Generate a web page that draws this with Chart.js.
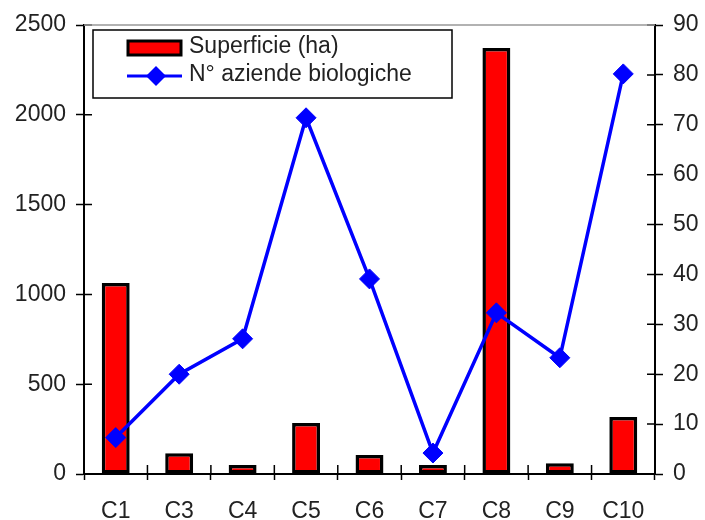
<!DOCTYPE html>
<html>
<head>
<meta charset="utf-8">
<script src="https://cdn.jsdelivr.net/npm/chart.js@4.4.0/dist/chart.umd.min.js"></script>
<style>
  html, body { margin: 0; padding: 0; background: #fff; }
  #contenitore { width: 705px; height: 520px; }
</style>
</head>
<body>
<div id="contenitore"><canvas id="grafico" width="705" height="520"></canvas></div>
<script>
// Dati
const categorie = ['C1', 'C3', 'C4', 'C5', 'C6', 'C7', 'C8', 'C9', 'C10'];
const superficie = [1063, 115, 50, 284, 106, 50, 2372, 60, 317];
const aziende = [7.3, 20, 27.1, 71.4, 39.1, 4.2, 32.3, 23.3, 80.2];
const maxSuperficie = 2500;
const passoSuperficie = 500;
const maxAziende = 90;
const passoAziende = 10;

const font = { family: "'Liberation Sans', Arial, sans-serif", size: 23 };
const coloreTesto = '#222';

// Tacche che attraversano gli assi (parte interna)
const taccheInterne = {
    id: 'taccheInterne',
    afterDraw(chart) {
        const ctx = chart.ctx;
        const area = chart.chartArea;
        ctx.save();
        ctx.strokeStyle = '#000';
        ctx.lineWidth = 1.5;
        ctx.beginPath();
        const sx = chart.scales.y;
        sx.ticks.forEach((t, i) => {
            const y = sx.getPixelForTick(i);
            ctx.moveTo(area.left, y);
            ctx.lineTo(area.left + 8, y);
        });
        const dx = chart.scales.y1;
        dx.ticks.forEach((t, i) => {
            const y = dx.getPixelForTick(i);
            ctx.moveTo(area.right, y);
            ctx.lineTo(area.right - 8, y);
        });
        const x = chart.scales.x;
        const meta = (x.getPixelForTick(1) - x.getPixelForTick(0)) / 2;
        for (let i = 0; i <= x.ticks.length; i++) {
            const px = x.getPixelForTick(0) - meta + i * meta * 2;
            ctx.moveTo(px, area.bottom);
            ctx.lineTo(px, area.bottom - 9);
        }
        ctx.stroke();

        // bordo superiore grigio
        ctx.strokeStyle = '#999';
        ctx.lineWidth = 1.5;
        ctx.beginPath();
        ctx.moveTo(area.left, area.top);
        ctx.lineTo(area.right, area.top);
        ctx.stroke();
        ctx.restore();
    }
};

// Legenda dentro l'area del grafico
const legendaInterna = {
    id: 'legendaInterna',
    afterDraw(chart) {
        const ctx = chart.ctx;
        const ds = chart.data.datasets;
        ctx.save();
        ctx.fillStyle = '#fff';
        ctx.fillRect(93, 30, 359, 68);
        ctx.strokeStyle = '#000';
        ctx.lineWidth = 1.5;
        ctx.strokeRect(93, 30, 359, 68);

        // barra
        ctx.fillStyle = '#ff0000';
        ctx.fillRect(128, 41, 53, 14);
        ctx.lineWidth = 3;
        ctx.strokeStyle = '#000';
        ctx.strokeRect(128, 41, 53, 14);

        // linea con rombo
        ctx.strokeStyle = '#0000ff';
        ctx.lineWidth = 3;
        ctx.beginPath();
        ctx.moveTo(127, 76);
        ctx.lineTo(182, 76);
        ctx.stroke();
        ctx.fillStyle = '#0000ff';
        ctx.beginPath();
        ctx.moveTo(156, 66);
        ctx.lineTo(166, 76);
        ctx.lineTo(156, 86);
        ctx.lineTo(146, 76);
        ctx.closePath();
        ctx.fill();

        ctx.fillStyle = coloreTesto;
        ctx.font = font.size + 'px ' + font.family;
        ctx.textBaseline = 'middle';
        ctx.textAlign = 'left';
        ctx.fillText(ds[1].label, 189, 47);
        ctx.fillText(ds[0].label, 189, 75);
        ctx.restore();
    }
};

new Chart(document.getElementById('grafico'), {
    data: {
        labels: categorie,
        datasets: [
            {
                type: 'line',
                label: 'N° aziende biologiche',
                data: aziende,
                yAxisID: 'y1',
                borderColor: '#0000ff',
                backgroundColor: '#0000ff',
                borderWidth: 3.5,
                pointStyle: 'rectRot',
                pointRadius: 10,
                pointBorderWidth: 1,
                pointBackgroundColor: '#0000ff',
                pointBorderColor: '#0000ff',
                tension: 0,
                order: 0
            },
            {
                type: 'bar',
                label: 'Superficie (ha)',
                data: superficie,
                yAxisID: 'y',
                backgroundColor: '#ff0000',
                borderColor: '#000',
                borderWidth: 3.5,
                borderSkipped: false,
                categoryPercentage: 1,
                barPercentage: 0.44,
                order: 1
            }
        ]
    },
    options: {
        responsive: false,
        devicePixelRatio: 1,
        animation: false,
        layout: { padding: { top: 25, left: 0, right: 0, bottom: 0 } },
        plugins: {
            legend: { display: false },
            tooltip: { enabled: false }
        },
        scales: {
            x: {
                type: 'category',
                offset: true,
                grid: {
                    display: true,
                    drawOnChartArea: false,
                    offset: true,
                    tickLength: 6,
                    tickColor: '#000',
                    tickWidth: 1.5
                },
                border: { display: true, color: '#000', width: 2 },
                ticks: { color: coloreTesto, font: font, padding: 18, maxRotation: 0 },
                afterFit(s) { s.height = 46; }
            },
            y: {
                position: 'left',
                min: 0,
                max: maxSuperficie,
                grid: {
                    display: true,
                    drawOnChartArea: false,
                    tickLength: 8,
                    tickColor: '#000',
                    tickWidth: 1.5
                },
                border: { display: true, color: '#000', width: 2 },
                ticks: {
                    stepSize: passoSuperficie, color: coloreTesto, font: font, padding: 10,
                    callback: v => String(v)
                },
                afterFit(s) { s.width = 84; }
            },
            y1: {
                position: 'right',
                min: 0,
                max: maxAziende,
                grid: {
                    display: true,
                    drawOnChartArea: false,
                    tickLength: 8,
                    tickColor: '#000',
                    tickWidth: 1.5
                },
                border: { display: true, color: '#000', width: 2 },
                ticks: {
                    stepSize: passoAziende, color: coloreTesto, font: font, padding: 10,
                    callback: v => String(v)
                },
                afterFit(s) { s.width = 50; }
            }
        }
    },
    plugins: [taccheInterne, legendaInterna]
});
</script>
</body>
</html>
